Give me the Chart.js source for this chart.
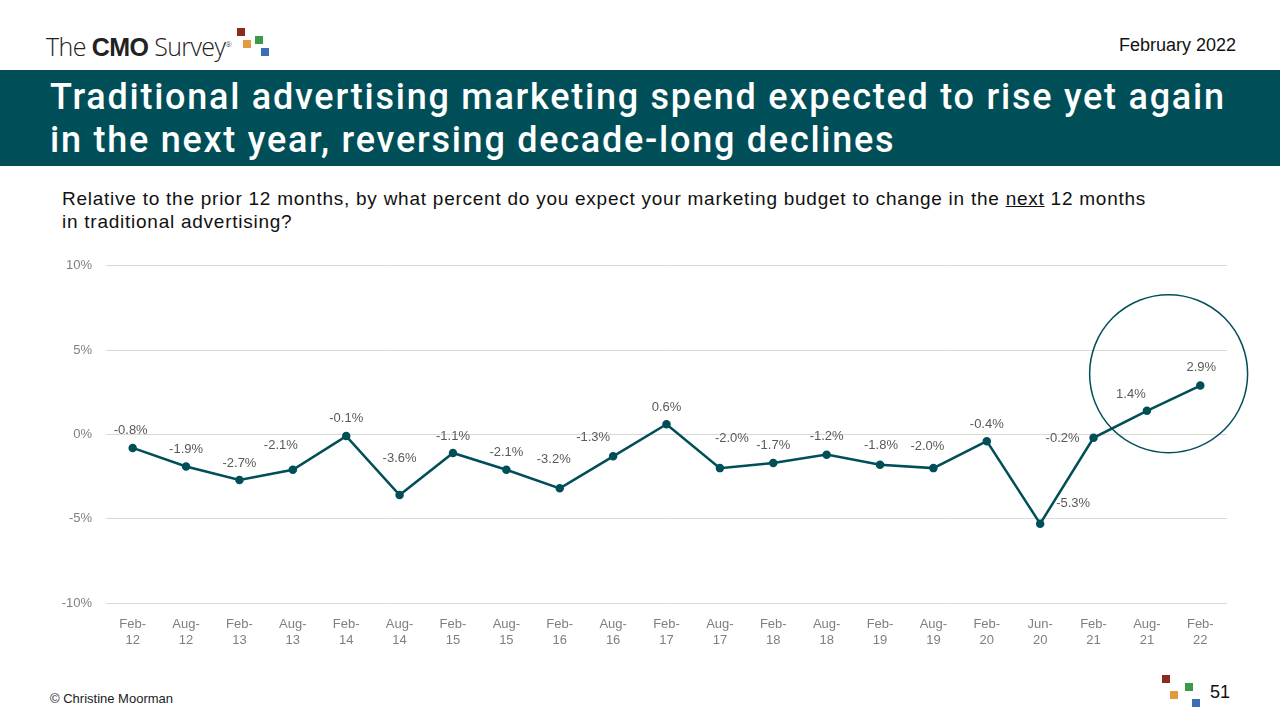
<!DOCTYPE html>
<html><head><meta charset="utf-8">
<script src="https://cdn.jsdelivr.net/npm/chart.js"></script>
<style>
body{margin:0;width:1280px;height:720px;position:relative;background:#fff;font-family:Arial,"Liberation Sans",sans-serif;overflow:hidden}
.logo{position:absolute;left:46px;top:29px;font-size:25px;color:#222;letter-spacing:-0.6px;font-family:"Open Sans",sans-serif;font-weight:300}
.logo b{font-weight:800;font-family:Arial,sans-serif}
.date{position:absolute;right:44px;top:35px;font-size:18px;color:#111}
.bar{position:absolute;left:0;top:70px;width:1280px;height:96px;background:#004f58}
.bar div{position:absolute;left:50px;top:6px;color:#fff;font-family:Roboto,sans-serif;font-weight:500;font-size:36px;line-height:43px;letter-spacing:1.75px;white-space:nowrap}
.q{position:absolute;left:62px;top:187px;font-size:19px;line-height:23px;color:#111;letter-spacing:0.75px;white-space:nowrap}
.foot{position:absolute;left:50px;top:691px;font-size:13px;color:#222}
.pg{position:absolute;left:1210px;top:682px;font-size:18px;color:#111}
.sq{position:absolute;width:8px;height:8px}
canvas{position:absolute;left:40px;top:244px}
</style></head><body>
<div class="logo">The <b>CMO</b> Survey<sup style="font-size:8px">®</sup></div>
<div class="sq" style="left:237px;top:28px;background:#8b2a1f"></div>
<div class="sq" style="left:243px;top:40px;background:#e39a3c"></div>
<div class="sq" style="left:255px;top:36px;background:#3a9a4a"></div>
<div class="sq" style="left:261px;top:48px;background:#3a6fb4"></div>
<div class="date">February 2022</div>
<div class="bar"><div>Traditional advertising marketing spend expected to rise yet again<br>in the next year, reversing decade-long declines</div></div>
<div class="q">Relative to the prior 12 months, by what percent do you expect your marketing budget to change in the <u>next</u> 12 months<br>in traditional advertising?</div>
<canvas id="c" width="1240" height="421" style="width:1240px;height:421px"></canvas>
<div class="foot">© Christine Moorman</div>
<div class="sq" style="left:1162px;top:675px;background:#8b2a1f"></div>
<div class="sq" style="left:1170px;top:691px;background:#e39a3c"></div>
<div class="sq" style="left:1185px;top:683px;background:#3a9a4a"></div>
<div class="sq" style="left:1192px;top:699px;background:#3a6fb4"></div>
<div class="pg">51</div>
<script>
const categories=[["Feb-","12"],["Aug-","12"],["Feb-","13"],["Aug-","13"],["Feb-","14"],["Aug-","14"],["Feb-","15"],["Aug-","15"],["Feb-","16"],["Aug-","16"],["Feb-","17"],["Aug-","17"],["Feb-","18"],["Aug-","18"],["Feb-","19"],["Aug-","19"],["Feb-","20"],["Jun-","20"],["Feb-","21"],["Aug-","21"],["Feb-","22"]];
const values=[-0.8,-1.9,-2.7,-2.1,-0.1,-3.6,-1.1,-2.1,-3.2,-1.3,0.6,-2.0,-1.7,-1.2,-1.8,-2.0,-0.4,-5.3,-0.2,1.4,2.9];
const yTicks=[-10,-5,0,5,10];
const labelDx=[-2,0,0,-12,0,0,0,0,-6,-20,0,12,0,0,1,-6,0,33,-31,-16,1];
const labelDy=[-17,-17,-17,-24,-18,-37,-17,-17,-29,-19,-17,-30,-18,-18,-19,-22,-17,-20,1,-16,-18];
const lblPlugin={id:'lbl',afterDraw(ch){
  const ctx=ch.ctx,m=ch.getDatasetMeta(0);
  ctx.save();ctx.font='13px Arial, "Liberation Sans"';ctx.fillStyle='#595959';ctx.textAlign='center';ctx.textBaseline='middle';
  m.data.forEach((p,i)=>{ctx.fillText(values[i].toFixed(1)+'%',p.x+labelDx[i],p.y+labelDy[i]);});
  const a=m.data[19],b=m.data[20];
  ctx.beginPath();ctx.strokeStyle='#004f58';ctx.lineWidth=1.5;
  ctx.arc((a.x+b.x)/2-5,ch.scales.y.getPixelForValue(3.6),79,0,Math.PI*2);ctx.stroke();
  ctx.restore();}};
new Chart(document.getElementById('c'),{type:'line',
 data:{labels:categories,datasets:[{data:values,borderColor:'#004f58',backgroundColor:'#004f58',borderWidth:2.5,pointRadius:3,pointBackgroundColor:'#004f58',tension:0}]},
 options:{responsive:false,animation:false,layout:{padding:{top:0,right:53}},
  plugins:{legend:{display:false},tooltip:{enabled:false}},
  scales:{
   x:{offset:true,grid:{display:false},border:{display:false},ticks:{color:'#7f7f7f',font:{size:13,family:'Arial'},maxRotation:0,autoSkip:false,padding:6},afterFit(s){s.height=62;}},
   y:{min:-10,max:10,afterBuildTicks(s){s.ticks=yTicks.map(v=>({value:v}));},grid:{color:'#d9d9d9',drawTicks:false},border:{display:false},
      ticks:{color:'#7f7f7f',font:{size:13,family:'Arial'},padding:14,callback:v=>v+'%'},afterFit(s){s.width=66;}}}},
 plugins:[lblPlugin]});
</script></body></html>
